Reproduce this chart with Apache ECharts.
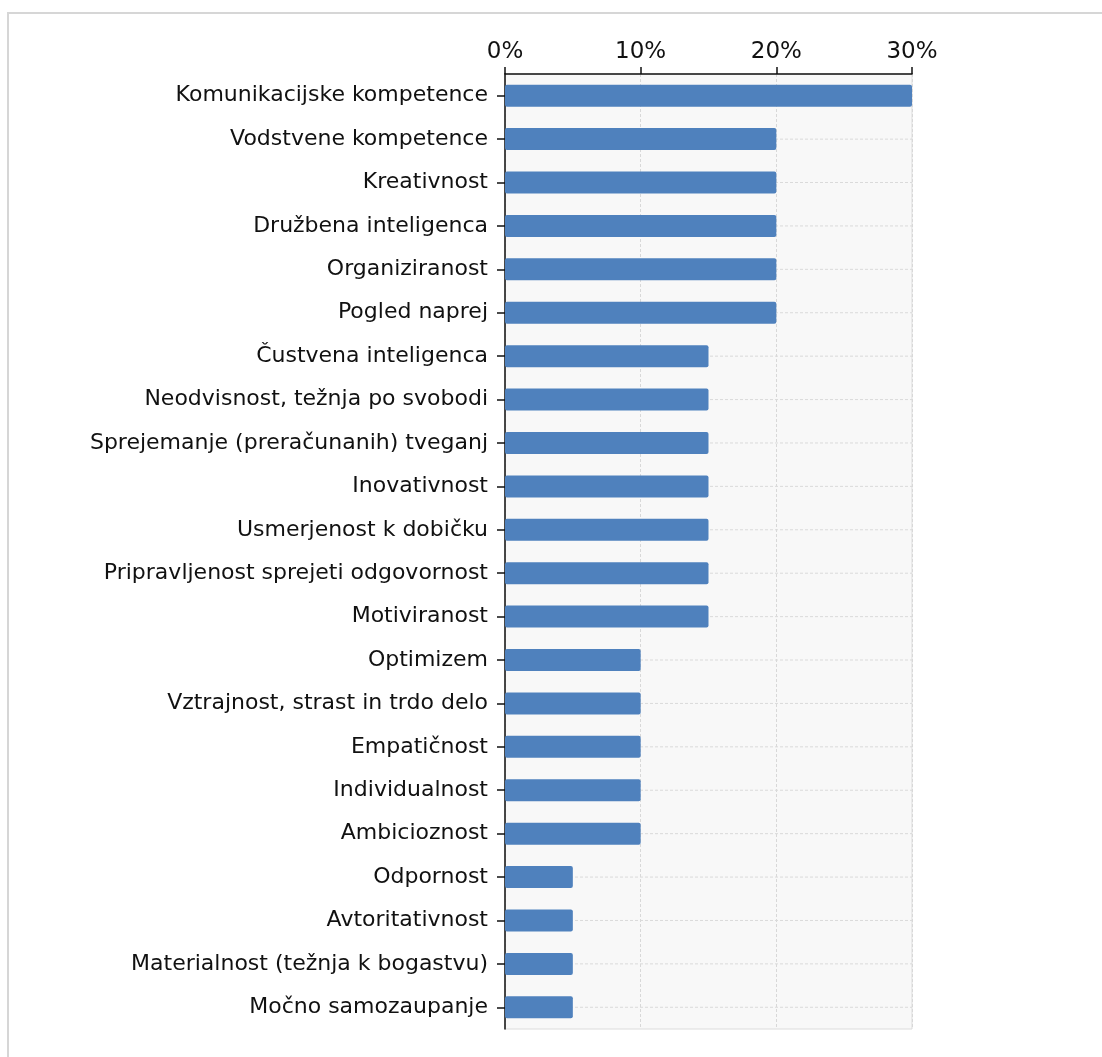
<!DOCTYPE html>
<html>
<head>
<meta charset="utf-8">
<script src="https://cdn.jsdelivr.net/npm/echarts@6/dist/echarts.min.js"></script>
<style>
  html, body { margin: 0; padding: 0; background: #fff; }
  #frame { position: absolute; left: 7px; top: 12px; width: 1110px; height: 1060px; border: 2px solid #d6d6d6; box-sizing: border-box; }
  #chart { position: absolute; left: 0; top: 0; width: 1102px; height: 1057px; }
</style>
</head>
<body>
<div id="frame"></div>
<div id="chart"></div>
<script>
// Entrepreneurial competences, share of mentions (%)
const categories = [
  'Komunikacijske kompetence',
  'Vodstvene kompetence',
  'Kreativnost',
  'Družbena inteligenca',
  'Organiziranost',
  'Pogled naprej',
  'Čustvena inteligenca',
  'Neodvisnost, težnja po svobodi',
  'Sprejemanje (preračunanih) tveganj',
  'Inovativnost',
  'Usmerjenost k dobičku',
  'Pripravljenost sprejeti odgovornost',
  'Motiviranost',
  'Optimizem',
  'Vztrajnost, strast in trdo delo',
  'Empatičnost',
  'Individualnost',
  'Ambicioznost',
  'Odpornost',
  'Avtoritativnost',
  'Materialnost (težnja k bogastvu)',
  'Močno samozaupanje'
];
const values = [30, 20, 20, 20, 20, 20, 15, 15, 15, 15, 15, 15, 15, 10, 10, 10, 10, 10, 5, 5, 5, 5];
const tickValues = [0, 10, 20, 30];

const font = '"DejaVu Sans", Verdana, sans-serif';
const xMin = tickValues[0];
const xMax = tickValues[tickValues.length - 1];
const chart = echarts.init(document.getElementById('chart'), null, { renderer: 'canvas' });

chart.setOption({
  animation: false,
  backgroundColor: 'transparent',
  grid: {
    left: 505, right: 190, top: 74, bottom: 28,
    show: true,
    backgroundColor: '#f8f8f8',
    borderColor: '#dcdcdc',
    borderWidth: 1
  },
  xAxis: {
    type: 'value',
    position: 'top',
    min: xMin,
    max: xMax,
    interval: 10,
    axisLine: { show: true, lineStyle: { color: '#111', width: 1.5 } },
    axisTick: { show: true, inside: false, length: 7, lineStyle: { color: '#111', width: 1.5 } },
    axisLabel: {
      formatter: v => v + '%',
      fontFamily: font, fontSize: 23, color: '#111', margin: 10
    },
    splitLine: { show: true, lineStyle: { color: '#d8d8d8', type: [3, 2], width: 1 } }
  },
  yAxis: {
    type: 'category',
    inverse: true,
    data: categories,
    axisLine: { show: true, lineStyle: { color: '#111', width: 1.5 } },
    axisTick: { show: true, alignWithLabel: true, length: 8, lineStyle: { color: '#111', width: 1.5 } },
    axisLabel: { fontFamily: font, fontSize: 22, color: '#111', margin: 17 },
    splitLine: { show: false }
  },
  series: [
    {
      // dashed guide through the middle of each row, drawn beneath the bars
      type: 'custom',
      silent: true,
      z: 1,
      data: categories.map((c, i) => [i]),
      renderItem: (params, api) => {
        const row = api.value(0);
        const a = api.coord([xMin, row]);
        const b = api.coord([xMax, row]);
        return {
          type: 'line',
          shape: { x1: a[0], y1: a[1], x2: b[0], y2: b[1] },
          style: { stroke: '#dadada', lineWidth: 1, lineDash: [3, 2] }
        };
      },
      encode: { y: 0 }
    },
    {
      type: 'bar',
      data: values,
      barWidth: 22,
      itemStyle: { color: '#4f81bd', borderRadius: 2 },
      z: 3
    }
  ]
});
</script>
</body>
</html>
